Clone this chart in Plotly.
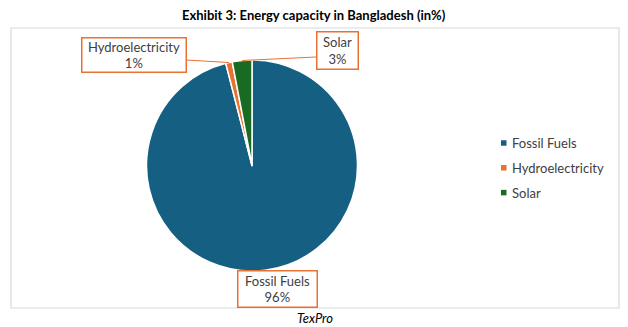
import math
import plotly.graph_objects as go

categories = ["Fossil Fuels", "Hydroelectricity", "Solar"]
values = [96, 1, 3]
pct_labels = ["96%", "1%", "3%"]
colors = ["#156082", "#E97132", "#196B24"]

W, H = 628, 327
cx, cy, r = 252, 165.5, 105.5

def px(x):
    return x / W

def py(y):
    return 1 - y / H

fig = go.Figure()
fig.add_trace(go.Pie(
    labels=categories,
    values=values,
    sort=False,
    direction="clockwise",
    rotation=0,
    textinfo="none",
    hoverinfo="label+percent",
    marker=dict(colors=colors, line=dict(color="white", width=1.5)),
    domain=dict(x=[px(cx - r), px(cx + r)], y=[py(cy + r), py(cy - r)]),
    showlegend=False,
))

# label boxes (pixel positions of box centres)
boxes = {
    "Fossil Fuels": (277.5, 289, 78, 35),
    "Hydroelectricity": (133.5, 55, 103, 33),
    "Solar": (337, 51, 40, 36),
}
text_font = dict(family="Lato", size=13, color="#404040")
annotations = []
shapes = []
total = sum(values)
cum = 0
for cat, v, p in zip(categories, values, pct_labels):
    mid = (cum + v / 2) / total * 2 * math.pi
    cum += v
    bx, by, bw, bh = boxes[cat]
    annotations.append(dict(
        x=px(bx), y=py(by), xref="paper", yref="paper",
        text=f"{cat}<br>{p}", showarrow=False,
        font=text_font, align="center",
        width=bw, height=bh, bordercolor="#E97132", borderwidth=1.5,
        borderpad=0, bgcolor="white", xanchor="center", yanchor="middle",
    ))
    if cat != "Fossil Fuels":
        ex = cx + r * math.sin(mid)
        ey = cy - r * math.cos(mid)
        sx = bx + bw / 2 + 1 if ex > bx else bx - bw / 2 - 1
        sy = by + 6 if cat == "Solar" else by + 5
        shapes.append(dict(type="line", xref="paper", yref="paper",
                           x0=px(sx), y0=py(sy), x1=px(ex), y1=py(ey),
                           line=dict(color="#E97132", width=1)))

# legend (drawn manually for spacing and marker size)
leg_x, leg_y0, leg_dy, sq = 501, 143, 24.8, 5.5
for i, (cat, col) in enumerate(zip(categories, colors)):
    yy = leg_y0 + i * leg_dy
    shapes.append(dict(type="rect", xref="paper", yref="paper",
                       x0=px(leg_x), x1=px(leg_x + sq),
                       y0=py(yy + sq / 2), y1=py(yy - sq / 2),
                       fillcolor=col, line=dict(width=0)))
    annotations.append(dict(
        x=px(leg_x + sq + 3.5), y=py(yy), xref="paper", yref="paper",
        text=cat, showarrow=False, font=text_font,
        xanchor="left", yanchor="middle"))

# chart frame
shapes.insert(0, dict(type="rect", xref="paper", yref="paper",
                      x0=px(11), y0=py(308), x1=px(619), y1=py(28),
                      line=dict(color="#D9D9D9", width=1.2), layer="below"))

annotations.append(dict(
    x=0.5, y=py(15), xref="paper", yref="paper", showarrow=False,
    text="<b>Exhibit 3: Energy capacity in Bangladesh (in%)</b>",
    font=dict(family="Lato", size=13, color="#000000"),
    xanchor="center", yanchor="middle"))
annotations.append(dict(
    x=px(315), y=py(318), xref="paper", yref="paper", showarrow=False,
    text="<i>TexPro</i>",
    font=dict(family="Lato", size=13, color="#000000"),
    xanchor="center", yanchor="middle"))

fig.update_layout(
    width=W, height=H,
    margin=dict(l=0, r=0, t=0, b=0),
    paper_bgcolor="white",
    plot_bgcolor="white",
    annotations=annotations,
    shapes=shapes,
    showlegend=False,
)

fig.write_html("out.html")
